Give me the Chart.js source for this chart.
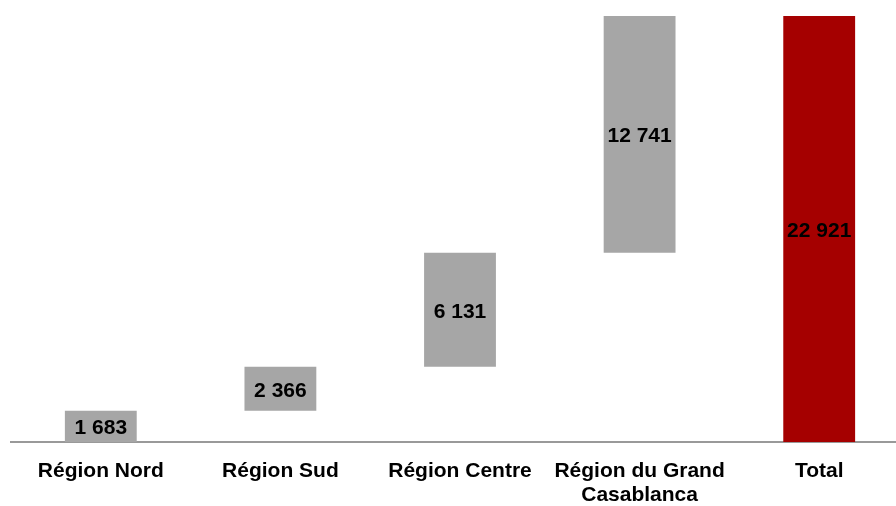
<!DOCTYPE html>
<html>
<head>
<meta charset="utf-8">
<script src="https://cdn.jsdelivr.net/npm/chart.js@4/dist/chart.umd.min.js"></script>
<style>
  html, body { margin: 0; padding: 0; background: #fff; overflow: hidden; }
  #wrap { position: absolute; left: 0; top: 0; width: 920px; height: 506px; }
</style>
</head>
<body>
<div id="wrap"><canvas id="c" width="920" height="506"></canvas></div>
<script>
// Régions et contributions (cascade) puis total
const categories = ['Région Nord', 'Région Sud', 'Région Centre', ['Région du Grand', 'Casablanca'], 'Total'];
const increments = [1683, 2366, 6131, 12741];
const totalValue = 22921;

const stepColor = '#a6a6a6';
const totalColor = '#a50000';

// Floating bars: each step starts where the previous one ended
const floating = [];
let running = 0;
increments.forEach(v => { floating.push([running, running + v]); running += v; });
floating.push([0, totalValue]);
const shownValues = increments.concat([totalValue]);
const colors = increments.map(() => stepColor).concat([totalColor]);

const fmt = n => String(n).replace(/\B(?=(\d{3})+(?!\d))/g, ' ');

const barLabels = {
  id: 'barLabels',
  afterDatasetsDraw(chart) {
    const ctx = chart.ctx;
    const meta = chart.getDatasetMeta(0);
    ctx.save();
    ctx.font = 'bold 21px "Liberation Sans", Arial, sans-serif';
    ctx.fillStyle = '#000';
    ctx.textAlign = 'center';
    ctx.textBaseline = 'middle';
    meta.data.forEach((bar, i) => {
      const yc = (bar.y + bar.base) / 2;
      ctx.fillText(fmt(shownValues[i]), bar.x, yc + 2);
    });
    ctx.restore();
  }
};

new Chart(document.getElementById('c'), {
  type: 'bar',
  data: {
    labels: categories,
    datasets: [{
      data: floating,
      backgroundColor: colors,
      borderWidth: 0,
      barPercentage: 0.4,
      categoryPercentage: 1.0
    }]
  },
  options: {
    responsive: false,
    animation: false,
    layout: { padding: { left: 11, right: 11, top: 16, bottom: 0 } },
    plugins: { legend: { display: false }, tooltip: { enabled: false } },
    scales: {
      x: {
        grid: { display: false, drawTicks: false },
        border: { display: true, color: '#999999', width: 2 },
        ticks: {
          color: '#000',
          padding: 17,
          maxRotation: 0,
          autoSkip: false,
          font: { family: '"Liberation Sans", Arial, sans-serif', size: 21, weight: 'bold', lineHeight: 1.15 }
        },
        afterFit(scale) { scale.height = 64; }
      },
      y: {
        display: false,
        min: 0,
        max: totalValue
      }
    }
  },
  plugins: [barLabels]
});
</script>
</body>
</html>
